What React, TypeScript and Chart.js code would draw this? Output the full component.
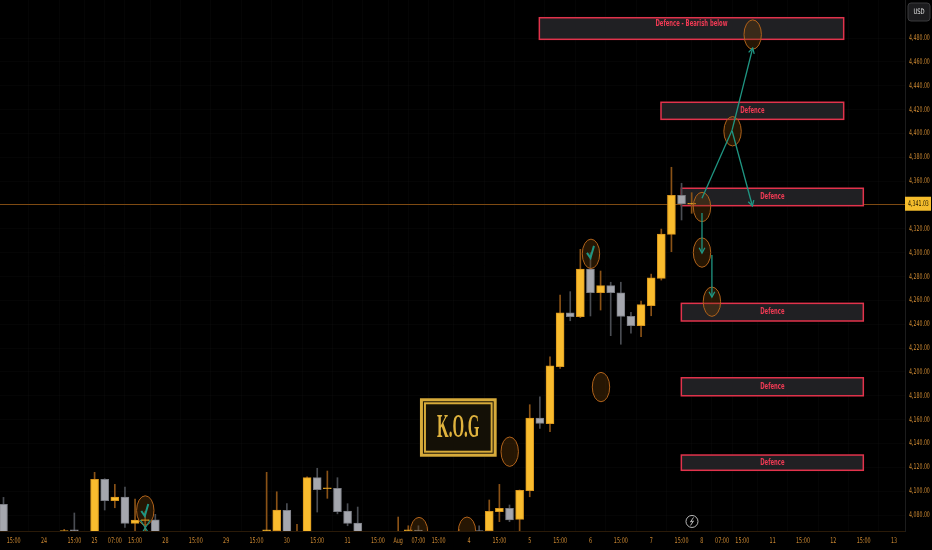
import { useEffect, useRef } from "react";
import { Chart, registerables } from "chart.js";

Chart.register(...registerables);

// 4h candles, one per bar index. null = bar sits below the visible price range
const opens: (number | null)[] = [
  4089.0, null, null, null, null, null, 4066.0, 4067.5, null, 4055.0,
  4109.9, 4092.0, 4095.1, 4073.0, 4075.3, 4076.0, null, null, null, null,
  null, null, null, null, null, null, 4066.7, 4066.8, 4083.9, 4050.0,
  4055.0, 4111.3, 4102.0, 4102.4, 4083.4, 4073.3, null, null, null, 4050.0,
  4066.8, 4067.4, null, null, null, 4060.0, null, 4067.0, 4066.8, 4082.8,
  4085.6, 4076.4, 4100.4, 4161.3, 4156.6, 4204.4, 4249.6, 4246.3, 4286.3, 4266.4,
  4272.3, 4266.4, 4246.6, 4238.7, 4255.5, 4278.5, 4315.4, 4348.1, 4340.6,
];
const highs: (number | null)[] = [
  4094.8, null, null, null, null, null, 4068.0, 4081.7, null, 4115.8,
  4110.5, 4105.7, 4103.5, 4093.4, 4083.0, 4080.6, null, null, null, null,
  null, null, null, null, null, null, 4115.8, 4099.5, 4089.5, 4072.2,
  4112.0, 4119.2, 4116.9, 4111.3, 4089.5, 4086.7, null, null, null, 4078.3,
  4071.0, 4071.0, null, null, null, 4068.0, null, 4071.0, 4092.6, 4105.7,
  4088.4, 4101.0, 4172.5, 4179.2, 4212.7, 4264.5, 4267.3, 4302.8, 4300.0, 4284.6,
  4275.2, 4275.2, 4250.0, 4259.5, 4282.0, 4319.8, 4371.6, 4358.2, 4350.3,
];
const lows: (number | null)[] = [
  4050.0, null, null, null, null, null, 4058.0, 4060.0, null, 4050.0,
  4084.2, 4086.1, 4069.7, 4064.0, 4066.0, 4052.0, null, null, null, null,
  null, null, null, null, null, null, 4058.0, 4058.0, 4055.0, 4045.0,
  4050.0, 4082.5, 4094.0, 4081.0, 4071.0, 4055.0, null, null, null, 4045.0,
  4060.0, 4060.0, null, null, null, 4050.0, null, 4058.0, 4060.0, 4074.4,
  4074.4, 4066.8, 4095.3, 4152.7, 4149.9, 4203.0, 4242.9, 4245.5, 4246.9, 4251.9,
  4230.4, 4223.2, 4232.4, 4229.5, 4247.1, 4277.0, 4300.8, 4327.4, 4333.0,
];
const closes: (number | null)[] = [
  4058.0, null, null, null, null, null, 4067.0, 4066.5, null, 4109.9,
  4092.0, 4095.1, 4073.0, 4075.8, 4075.8, 4060.0, null, null, null, null,
  null, null, null, null, null, null, 4067.5, 4084.2, 4062.0, 4060.0,
  4111.3, 4101.2, 4102.6, 4082.8, 4073.0, 4060.0, null, null, null, 4060.0,
  4067.6, 4066.6, null, null, null, 4064.0, null, 4062.0, 4083.1, 4085.6,
  4075.8, 4100.7, 4161.3, 4156.9, 4205.2, 4249.6, 4246.3, 4286.3, 4266.4, 4272.3,
  4266.4, 4246.6, 4238.7, 4256.4, 4279.0, 4315.6, 4348.1, 4340.8, 4341.03,
];

const lastPrice = 4341.03;

const timeTickBars = [1, 4, 7, 9, 11, 13, 16, 19, 22, 25, 28, 31, 34, 37, 39, 41, 43, 46, 49, 52, 55, 58, 61, 64, 67, 69, 71, 73, 76, 79, 82, 85, 88];
const timeTickLabels = ["15:00", "24", "15:00", "25", "07:00", "15:00", "28", "15:00", "29", "15:00", "30", "15:00", "31", "15:00", "Aug", "07:00", "15:00", "4", "15:00", "5", "15:00", "6", "15:00", "7", "15:00", "8", "07:00", "15:00", "11", "15:00", "12", "15:00", "13"];

const priceTicks = [4080, 4100, 4120, 4140, 4160, 4180, 4200, 4220, 4240, 4260, 4280, 4300, 4320, 4360, 4380, 4400, 4420, 4440, 4460, 4480];

// "Defence" zones (bar index / price)
const zoneNames = ["Defence - Bearish below", "Defence", "Defence", "Defence", "Defence", "Defence"];
const zoneStart = [52.95, 64.97, 66.98, 66.98, 66.98, 66.98];
const zoneEnd = [83.02, 83.02, 84.96, 84.96, 84.96, 84.96];
const zoneHigh = [4497.0, 4426.1, 4354.0, 4257.5, 4195.1, 4130.3];
const zoneLow = [4478.9, 4411.8, 4339.4, 4242.7, 4180.0, 4117.5];

// circled spots
const circleBar = [14.01, 41.06, 45.8, 50.02, 59.04, 58.05, 69.02, 69.02, 70.0, 72.04, 74.03];
const circlePrice = [4083.8, 4065.7, 4066.0, 4133.1, 4187.3, 4299.0, 4338.3, 4300.1, 4258.9, 4401.8, 4482.9];

// projected path arrows
const arrowFromBar = [69.02, 72.0, 72.0, 69.02, 70.0];
const arrowFromPrice = [4345.6, 4402.9, 4402.0, 4333.2, 4298.0];
const arrowToBar = [72.0, 74.03, 74.0, 69.02, 70.0];
const arrowToPrice = [4402.9, 4471.6, 4339.1, 4299.7, 4262.8];
const arrowHead = [false, true, true, true, true];

const checkBar = [14.01, 58.05];
const checkPrice = [4082.5, 4299.0];

const logoBars = [41.15, 48.73];
const logoPrices = [4177.9, 4128.9];

const flashBar = 68.03;
const flashPrice = 4074.6;

const SANS = "'DejaVu Sans', 'Liberation Sans', sans-serif";
const AXIS_TXT = "#cf8a32";

const fmt = (v: number) =>
  v.toLocaleString("en-US", { minimumFractionDigits: 2, maximumFractionDigits: 2 });

// text squeezed horizontally, like the narrow UI font of the original
function narrowText(
  ctx: CanvasRenderingContext2D,
  text: string,
  x: number,
  y: number,
  size: number,
  sx: number,
  align: CanvasTextAlign,
  weight = "normal"
) {
  ctx.save();
  ctx.translate(x, y);
  ctx.scale(sx, 1);
  ctx.font = `${weight} ${size}px ${SANS}`;
  ctx.textAlign = align;
  ctx.textBaseline = "middle";
  ctx.fillText(text, 0, 0);
  ctx.restore();
}

function drawArrowLine(ctx: CanvasRenderingContext2D, x0: number, y0: number, x1: number, y1: number, head: boolean) {
  ctx.beginPath();
  ctx.moveTo(x0, y0);
  ctx.lineTo(x1, y1);
  ctx.stroke();
  if (!head) return;
  const a = Math.atan2(y1 - y0, x1 - x0);
  const L = 6;
  ctx.beginPath();
  ctx.moveTo(x1 - L * Math.cos(a - 0.5), y1 - L * Math.sin(a - 0.5));
  ctx.lineTo(x1, y1);
  ctx.lineTo(x1 - L * Math.cos(a + 0.5), y1 - L * Math.sin(a + 0.5));
  ctx.stroke();
}

const overlay = {
  id: "kogOverlay",
  beforeDatasetsDraw(chart: any) {
    const { ctx, chartArea, scales } = chart;
    const xs = scales.x;
    const ys = scales.y;
    ctx.save();
    // last price line
    const py = Math.round(ys.getPixelForValue(lastPrice)) + 0.5;
    ctx.strokeStyle = "#7e4a12";
    ctx.lineWidth = 1;
    ctx.beginPath();
    ctx.moveTo(chartArea.left, py);
    ctx.lineTo(chartArea.right, py);
    ctx.stroke();

    // zones
    zoneNames.forEach((name, i) => {
      const x0 = xs.getPixelForValue(zoneStart[i]);
      const x1 = xs.getPixelForValue(zoneEnd[i]);
      const y0 = ys.getPixelForValue(zoneHigh[i]);
      const y1 = ys.getPixelForValue(zoneLow[i]);
      ctx.fillStyle = "#202023";
      ctx.fillRect(x0, y0, x1 - x0, y1 - y0);
      ctx.strokeStyle = "#e2334c";
      ctx.lineWidth = 1.5;
      ctx.strokeRect(x0, y0, x1 - x0, y1 - y0);
      ctx.fillStyle = "#f03a54";
      const ty = i === 0 ? y0 + 6.5 : (y0 + y1) / 2;
      narrowText(ctx, name, (x0 + x1) / 2, ty, 8.5, 0.62, "center", "bold");
    });
    ctx.restore();
  },
  afterDatasetsDraw(chart: any) {
    const { ctx, chartArea, scales } = chart;
    const xs = scales.x;
    const ys = scales.y;
    ctx.save();
    ctx.beginPath();
    ctx.rect(chartArea.left, chartArea.top, chartArea.right - chartArea.left, chartArea.bottom - chartArea.top);
    ctx.clip();

    // circles
    circleBar.forEach((b, i) => {
      const cx = xs.getPixelForValue(b);
      const cy = ys.getPixelForValue(circlePrice[i]);
      ctx.beginPath();
      ctx.ellipse(cx, cy, 8.7, 14.7, 0, 0, Math.PI * 2);
      ctx.fillStyle = "rgba(110,62,8,0.35)";
      ctx.fill();
      ctx.strokeStyle = "#b0621a";
      ctx.lineWidth = 1;
      ctx.stroke();
    });

    // arrows
    ctx.strokeStyle = "#1f9683";
    ctx.lineWidth = 1.3;
    arrowFromBar.forEach((b, i) => {
      drawArrowLine(
        ctx,
        xs.getPixelForValue(b),
        ys.getPixelForValue(arrowFromPrice[i]),
        xs.getPixelForValue(arrowToBar[i]),
        ys.getPixelForValue(arrowToPrice[i]),
        arrowHead[i]
      );
    });

    // check marks
    ctx.lineWidth = 2;
    checkBar.forEach((b, i) => {
      const cx = xs.getPixelForValue(b);
      const cy = ys.getPixelForValue(checkPrice[i]);
      ctx.beginPath();
      ctx.moveTo(cx - 4, cy - 1);
      ctx.lineTo(cx - 0.5, cy + 4);
      ctx.lineTo(cx + 3, cy - 8);
      ctx.stroke();
    });
    // crossed strokes under the first check
    {
      const cx = xs.getPixelForValue(checkBar[0]);
      const cy = ys.getPixelForValue(checkPrice[0]);
      ctx.lineWidth = 1.2;
      ctx.beginPath();
      ctx.moveTo(cx - 5, cy + 8);
      ctx.lineTo(cx + 4, cy + 22);
      ctx.moveTo(cx + 5, cy + 8);
      ctx.lineTo(cx - 4, cy + 22);
      ctx.stroke();
    }

    // K.O.G logo
    {
      const x0 = xs.getPixelForValue(logoBars[0]);
      const x1 = xs.getPixelForValue(logoBars[1]);
      const y0 = ys.getPixelForValue(logoPrices[0]);
      const y1 = ys.getPixelForValue(logoPrices[1]);
      ctx.fillStyle = "#141006";
      ctx.fillRect(x0, y0, x1 - x0, y1 - y0);
      ctx.strokeStyle = "#d6aa3a";
      ctx.lineWidth = 3;
      ctx.strokeRect(x0 + 1.5, y0 + 1.5, x1 - x0 - 3, y1 - y0 - 3);
      ctx.lineWidth = 2;
      ctx.strokeRect(x0 + 5, y0 + 5, x1 - x0 - 10, y1 - y0 - 10);
      ctx.fillStyle = "#e0b33e";
      ctx.textAlign = "center";
      ctx.textBaseline = "middle";
      ctx.save();
      ctx.translate((x0 + x1) / 2, (y0 + y1) / 2 + 1);
      ctx.scale(0.68, 1.55);
      ctx.font = "bold 22px 'Liberation Serif', 'DejaVu Serif', serif";
      ctx.fillText("K.O.G", 0, 0);
      ctx.restore();
    }

    // flash icon
    {
      const cx = xs.getPixelForValue(flashBar);
      const cy = ys.getPixelForValue(flashPrice);
      ctx.strokeStyle = "#b8b8b8";
      ctx.lineWidth = 1;
      ctx.beginPath();
      ctx.arc(cx, cy, 6, 0, Math.PI * 2);
      ctx.stroke();
      ctx.beginPath();
      ctx.moveTo(cx + 1.5, cy - 4);
      ctx.lineTo(cx - 1.5, cy + 0.5);
      ctx.lineTo(cx + 1.5, cy - 0.5);
      ctx.lineTo(cx - 1.5, cy + 4);
      ctx.stroke();
    }
    ctx.restore();
  },
  afterDraw(chart: any) {
    const { ctx, scales } = chart;
    const xs = scales.x;
    const ys = scales.y;
    ctx.save();

    // axis labels
    ctx.fillStyle = AXIS_TXT;
    priceTicks.forEach((p) => {
      narrowText(ctx, fmt(p), ys.left + 4, ys.getPixelForValue(p), 7.8, 0.6, "left");
    });
    timeTickBars.forEach((b, i) => {
      narrowText(ctx, timeTickLabels[i], xs.getPixelForValue(b), xs.top + 9.5, 7.8, 0.62, "center");
    });

    // last price badge
    const py = ys.getPixelForValue(lastPrice);
    ctx.fillStyle = "#f5bd2c";
    ctx.fillRect(ys.left, py - 7, ys.right - ys.left - 1, 14);
    ctx.fillStyle = "#1b1400";
    narrowText(ctx, fmt(lastPrice), ys.left + 3, py + 0.5, 7.8, 0.6, "left");

    // currency badge
    const bx = ys.left + 3;
    ctx.beginPath();
    ctx.roundRect(bx, 3, 22, 18, 3);
    ctx.fillStyle = "#1c1c1e";
    ctx.fill();
    ctx.strokeStyle = "#3a3a3c";
    ctx.lineWidth = 1;
    ctx.stroke();
    ctx.fillStyle = "#e6e6e6";
    narrowText(ctx, "USD", bx + 11, 12.5, 7.5, 0.7, "center");
    ctx.restore();
  },
};

export default function App() {
  const chartRef = useRef<HTMLCanvasElement | null>(null);
  const chartInstance = useRef<Chart | null>(null);

  useEffect(() => {
    document.body.style.margin = "0";
    document.body.style.background = "#000";
    if (chartInstance.current) chartInstance.current.destroy();
    if (!chartRef.current) return;

    const bodies: any[] = [];
    const wicks: any[] = [];
    const up: boolean[] = [];
    opens.forEach((o, i) => {
      const c = closes[i];
      if (o === null || c === null) return;
      bodies.push({ x: i, y: [o, c] });
      wicks.push({ x: i, y: [lows[i], highs[i]] });
      up.push(c >= o);
    });

    chartInstance.current = new Chart(chartRef.current, {
      type: "bar",
      data: {
        datasets: [
          {
            label: "body",
            data: bodies,
            backgroundColor: (c: any) => (up[c.dataIndex] ? "#f9bc2e" : "#a5a7ae"),
            borderColor: (c: any) => (up[c.dataIndex] ? "#d9961e" : "#7c7e85"),
            borderWidth: 1,
            borderSkipped: false,
            barThickness: 8,
            minBarLength: 1,
            grouped: false,
            order: 0,
          } as any,
          {
            label: "wick",
            data: wicks,
            backgroundColor: (c: any) => (up[c.dataIndex] ? "#8a5216" : "#4a4d53"),
            borderWidth: 0,
            barThickness: 1,
            grouped: false,
            order: 1,
          } as any,
        ],
      },
      options: {
        animation: false,
        responsive: true,
        maintainAspectRatio: false,
        layout: { padding: 0 },
        plugins: {
          legend: { display: false },
          tooltip: { enabled: false },
        },
        scales: {
          x: {
            type: "linear",
            min: -0.346,
            max: 89.08,
            offset: false,
            grid: { color: "rgba(255,255,255,0.018)", drawTicks: false },
            border: { color: "#2a1a08" },
            ticks: { display: false },
            afterBuildTicks: (s: any) => {
              s.ticks = timeTickBars.map((v) => ({ value: v }));
            },
            afterFit: (s: any) => {
              s.height = 19;
              s.paddingLeft = 0;
              s.paddingRight = 0;
            },
          },
          y: {
            position: "right",
            min: 4066.6,
            max: 4511.87,
            grid: { color: "rgba(255,255,255,0.018)", drawTicks: false },
            border: { color: "#1d1d1d" },
            ticks: { display: false },
            afterBuildTicks: (s: any) => {
              s.ticks = priceTicks.map((v) => ({ value: v }));
            },
            afterFit: (s: any) => {
              s.width = 27;
              s.paddingTop = 0;
              s.paddingBottom = 0;
            },
          },
        },
      },
      plugins: [overlay],
    });

    return () => {
      if (chartInstance.current) {
        chartInstance.current.destroy();
        chartInstance.current = null;
      }
    };
  }, []);

  return (
    <div style={{ width: 932, height: 550, background: "#000", position: "relative" }}>
      <canvas ref={chartRef}></canvas>
    </div>
  );
}
